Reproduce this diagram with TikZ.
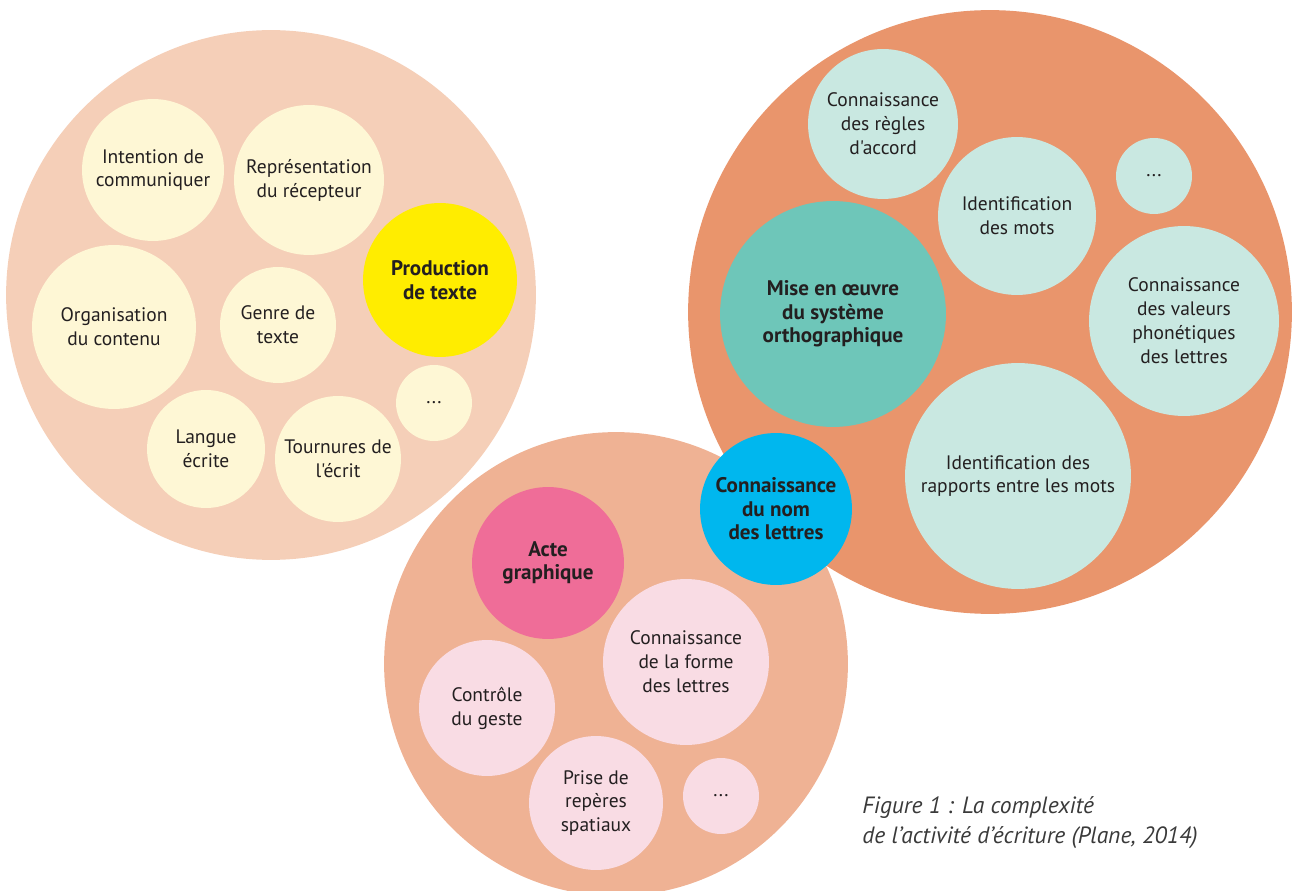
\documentclass[tikz,border=0pt]{standalone}
\usepackage{fontspec}
\setmainfont{PT Sans}[Ligatures=TeXOff]
\usetikzlibrary{positioning}
\definecolor{ink}{HTML}{231F20}
\definecolor{capgray}{HTML}{3A3A3A}
\definecolor{peachpale}{HTML}{F5CFB8}
\definecolor{salmon}{HTML}{E9956C}
\definecolor{peachmid}{HTML}{EFB294}
\definecolor{cream}{HTML}{FEF7D5}
\definecolor{lemon}{HTML}{FFED00}
\definecolor{mint}{HTML}{C9E8E1}
\definecolor{tealdeep}{HTML}{6EC6B9}
\definecolor{sky}{HTML}{00B7EE}
\definecolor{rose}{HTML}{EF6D98}
\definecolor{blush}{HTML}{F9DCE4}
\tikzset{
  outer/.style={circle,inner sep=0pt,minimum size=#1*0.04cm},
  bub/.style={circle,inner sep=0pt,minimum size=#1*0.04cm,align=center,
              text=ink,font=\fontsize{11.1}{13.6}\selectfont},
  key/.style={font=\bfseries\fontsize{12}{13.4}\selectfont}
}
\begin{document}
\begin{tikzpicture}[x=0.02cm,y=-0.02cm]
    \useasboundingbox (0,0) rectangle (1293,891);
    \clip (0,0) rectangle (1293,891);
    % --- the three fields
    \node[outer=265,fill=peachpale] (prod)  at (271,295) {};
    \node[outer=302,fill=salmon]    (ortho) at (990,312) {};
    \node[outer=232,fill=peachmid]  (graph) at (616,664) {};
    % --- production de texte
    \node[bub=71,fill=cream] (intent) at (153,170) {Intention de\\communiquer};
    \node[bub=75,fill=cream] (recep)  at (309,180) {Représentation\\du récepteur};
    \node[bub=77,fill=lemon,key] (ptxt) at (440,280) {Production\\de texte};
    \node[bub=82,fill=cream] (orga)   at (114,327) {Organisation\\du contenu};
    \node[bub=58,fill=cream] (genre)  at (278,325) {Genre de\\texte};
    \node[bub=38,fill=cream] (etcA)   at (434,403) {...};
    \node[bub=59,fill=cream] (langue) at (206,449) {Langue\\écrite};
    \node[bub=63,fill=cream] (tourn)  at (338,459) {Tournures de\\l'écrit};
    % --- orthographe
    \node[bub=75,fill=mint] (regles) at (883,124) {Connaissance\\des règles\\d'accord};
    \node[bub=79,fill=mint] (idmots) at (1017,216) {Identification\\des mots};
    \node[bub=38,fill=mint] (etcB)   at (1154,176) {...};
    \node[bub=113,fill=tealdeep,key] (syst) at (833,314) {Mise en œuvre\\du système\\orthographique};
    \node[bub=95,fill=mint] (phon)   at (1184,321) {Connaissance\\des valeurs\\phonétiques\\des lettres};
    \node[bub=113,fill=mint] (rapp)  at (1018,476) {Identification des\\rapports entre les mots};
    % --- graphisme
    \node[bub=76,fill=rose,key] (acte) at (548,563) {Acte\\graphique};
    \node[bub=83,fill=blush] (forme)  at (686,662) {Connaissance\\de la forme\\des lettres};
    \node[bub=68,fill=blush] (geste)  at (487,708) {Contrôle\\du geste};
    \node[bub=67,fill=blush] (repere) at (596,803) {Prise de\\repères\\spatiaux};
    \node[bub=38,fill=blush] (etcC)   at (721,796) {...};
    % --- shared
    \node[bub=76,fill=sky,key] (nom) at (776,509) {Connaissance\\du nom\\des lettres};
    % --- caption
    \node[anchor=base west,align=left,text=capgray,inner sep=0pt,
          font=\itshape\fontsize{13.4}{17}\selectfont] (cap) at (862,843)
      {Figure 1 : La complexité\\de l’activité d’écriture (Plane, 2014)};
\end{tikzpicture}
\end{document}
